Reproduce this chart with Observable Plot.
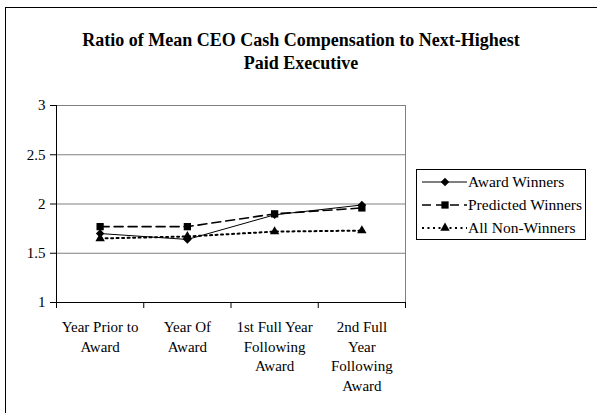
<!DOCTYPE html>
<html><head><meta charset="utf-8">
<script src="https://cdn.jsdelivr.net/npm/d3@7"></script>
<script src="https://cdn.jsdelivr.net/npm/@observablehq/plot@0.6"></script>
<style>
body{margin:0;background:#fff;font-family:"Liberation Serif","Times New Roman",serif;}
#wrap{position:relative;width:597px;height:413px;overflow:hidden;}
#frame{position:absolute;left:5px;top:7px;width:700px;height:500px;border:1px solid #000;box-sizing:border-box;}
#title{position:absolute;left:0;width:602px;top:29px;text-align:center;font-weight:bold;font-size:18px;line-height:23px;}
#chart{position:absolute;left:0;top:0;}
#legend{position:absolute;left:0;top:0;}
</style></head>
<body>
<div id="wrap"><div id="frame"></div>
<div id="title">Ratio of Mean CEO Cash Compensation to Next-Highest<br>Paid Executive</div>
<div id="chart"></div><div id="legend"></div></div>
<script>
const categories = ["Year Prior to\nAward", "Year Of\nAward", "1st Full Year\nFollowing\nAward", "2nd Full\nYear\nFollowing\nAward"];
const seriesNames = ["Award Winners", "Predicted Winners", "All Non-Winners"];
const awardWinners = [1.70, 1.64, 1.89, 1.99];
const predictedWinners = [1.77, 1.77, 1.90, 1.96];
const allNonWinners = [1.65, 1.67, 1.72, 1.73];
const yTicks = [1, 1.5, 2, 2.5, 3];

const styles = {
  "Award Winners": {dash: null, width: 1, symbol: "diamond2", r: 3.8},
  "Predicted Winners": {dash: "9,5", width: 1.6, symbol: "square", r: 4.1},
  "All Non-Winners": {dash: "2,3.5", width: 2, symbol: "triangle", r: 3.5}
};
const seriesVals = [awardWinners, predictedWinners, allNonWinners];
const data = [];
seriesNames.forEach((s, si) => seriesVals[si].forEach((v, i) => data.push({series: s, i: i + 0.5, cat: categories[i], v})));
const catData = categories.map((c, i) => ({c, i: i + 0.5}));
const bounds = d3.range(categories.length + 1);

const marks = [
  Plot.ruleY(yTicks.slice(1), {y: d => d, stroke: "#808080", strokeWidth: 1}),
  Plot.ruleX([categories.length], {x: d => d, stroke: "#808080", strokeWidth: 1}),
  Plot.ruleX([0], {x: d => d, stroke: "#000", strokeWidth: 1}),
  Plot.ruleY([yTicks[0]], {y: d => d, stroke: "#000", strokeWidth: 1}),
  Plot.axisX(bounds, {tickFormat: () => "", tickSize: 6, stroke: "#000", label: null}),
  Plot.axisY(yTicks, {tickSize: 6, tickPadding: 5, tickFormat: d => String(d), fontSize: 15, fill: "#000", stroke: "#000", label: null}),
  Plot.text(catData, {x: "i", frameAnchor: "bottom", text: "c", dy: 16, lineAnchor: "top", lineHeight: 1.3, fontSize: 15, fill: "#000"})
];
for (const s of seriesNames) {
  const st = styles[s];
  const d = data.filter(e => e.series === s);
  marks.push(Plot.line(d, {x: "i", y: "v", stroke: "#000", strokeWidth: st.width, strokeDasharray: st.dash}));
  marks.push(Plot.dot(d, {x: "i", y: "v", symbol: () => st.symbol, fill: "#000", r: st.r, stroke: "none"}));
}
const chart = Plot.plot({
  width: 597, height: 413,
  marginLeft: 56, marginRight: 192, marginTop: 105, marginBottom: 111,
  style: {fontFamily: "Liberation Serif, Times New Roman, serif", fontSize: "15px", background: "transparent", color: "#000"},
  x: {type: "linear", domain: [0, categories.length], axis: null},
  y: {type: "linear", domain: [1, 3], axis: null},
  symbol: {type: "identity"},
  marks
});
document.getElementById("chart").appendChild(chart);

// Legend
const L = d3.create("svg").attr("width", 597).attr("height", 413).style("position", "absolute");
L.append("rect").attr("x", 416.5).attr("y", 169.5).attr("width", 169).attr("height", 70).attr("fill", "#fff").attr("stroke", "#000");
seriesNames.forEach((s, k) => {
  const st = styles[s];
  const y = 182 + k * 23;
  L.append("line").attr("x1", 422).attr("x2", 467).attr("y1", y).attr("y2", y).attr("stroke", "#000").attr("stroke-width", st.width).attr("stroke-dasharray", st.dash);
  L.append("path").attr("transform", `translate(445,${y})`).attr("d", d3.symbol(st.symbol === "diamond2" ? d3.symbolDiamond2 : st.symbol === "square" ? d3.symbolSquare : d3.symbolTriangle, Math.PI * st.r * st.r)()).attr("fill", "#000");
  L.append("text").attr("x", 468).attr("y", y + 5).attr("font-size", 15.5).attr("font-family", "Liberation Serif, Times New Roman, serif").text(s);
});
document.getElementById("legend").appendChild(L.node());
</script>
</body></html>
